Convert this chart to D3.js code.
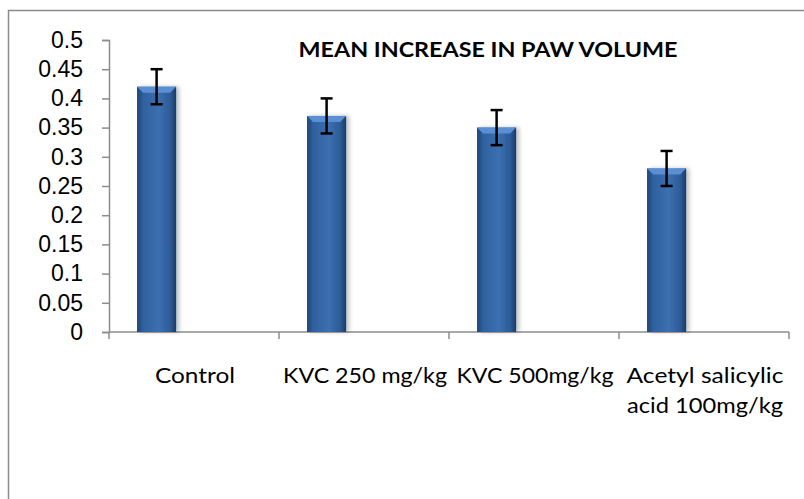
<!DOCTYPE html>
<html>
<head>
<meta charset="utf-8">
<script src="https://cdn.jsdelivr.net/npm/d3@7"></script>
<style>
  body { margin: 0; background: #fff; }
  svg { display: block; font-family: Lato, "Open Sans", sans-serif; }
</style>
</head>
<body>
<div id="chart"></div>
<script>
var svgWidth = 804;
var svgHeight = 499;

// chart data
var categories = ["Control", "KVC 250 mg/kg", "KVC 500mg/kg", "Acetyl salicylic|acid 100mg/kg"];
var means = [0.42, 0.37, 0.35, 0.28];
var errors = [0.03, 0.03, 0.03, 0.03];
var yTicks = [0, 0.05, 0.1, 0.15, 0.2, 0.25, 0.3, 0.35, 0.4, 0.45, 0.5];
var title = "MEAN INCREASE IN PAW VOLUME";

var plot = { left: 109, right: 789, top: 40, bottom: 332 };

var svg = d3.select("#chart")
  .append("svg")
  .attr("width", svgWidth)
  .attr("height", svgHeight);

var defs = svg.append("defs");
var grad = defs.append("linearGradient")
  .attr("id", "barGrad")
  .attr("x1", "0%").attr("x2", "100%").attr("y1", "0%").attr("y2", "0%");
grad.append("stop").attr("offset", "0%").attr("stop-color", "#1e4476");
grad.append("stop").attr("offset", "15%").attr("stop-color", "#2f609e");
grad.append("stop").attr("offset", "55%").attr("stop-color", "#3c6fb1");
grad.append("stop").attr("offset", "85%").attr("stop-color", "#2d5b96");
grad.append("stop").attr("offset", "100%").attr("stop-color", "#1a3a66");

var shadow = defs.append("filter").attr("id", "shadow")
  .attr("x", "-20%").attr("y", "-10%").attr("width", "160%").attr("height", "120%");
shadow.append("feDropShadow")
  .attr("dx", 3).attr("dy", 0).attr("stdDeviation", 2)
  .attr("flood-color", "#000").attr("flood-opacity", 0.25);

// outer frame
svg.append("rect")
  .attr("x", 8.5).attr("y", 10.5)
  .attr("width", 820).attr("height", 520)
  .attr("fill", "none")
  .attr("stroke", "#8c8c8c")
  .attr("stroke-width", 1.5);

var x = d3.scaleBand()
  .domain(categories)
  .range([plot.left, plot.right])
  .paddingInner(0).paddingOuter(0);

var y = d3.scaleLinear()
  .domain([0, 0.5])
  .range([plot.bottom, plot.top]);

// y axis
var yAxis = d3.axisLeft(y)
  .tickValues(yTicks)
  .tickSize(7)
  .tickPadding(19)
  .tickFormat(d => d3.format("")(+d.toFixed(2)));

var gy = svg.append("g")
  .attr("transform", `translate(${plot.left},0)`)
  .call(yAxis);
gy.select(".domain").attr("stroke", "#8c8c8c").attr("stroke-width", 1.5);
gy.selectAll(".tick line").attr("stroke", "#8c8c8c").attr("stroke-width", 1.5);
gy.selectAll(".tick text")
  .attr("fill", "#000")
  .style("font-size", "23px");

// x axis line and ticks
var gx = svg.append("g")
  .attr("transform", `translate(0,${plot.bottom})`);
gx.append("line")
  .attr("x1", plot.left).attr("x2", plot.right)
  .attr("stroke", "#8c8c8c").attr("stroke-width", 1.5);
var edges = categories.map(c => x(c)).concat([plot.right]);
gx.selectAll(".xtick")
  .data(edges)
  .enter()
  .append("line")
  .attr("class", "xtick")
  .attr("x1", d => d).attr("x2", d => d)
  .attr("y1", 0).attr("y2", 7)
  .attr("stroke", "#8c8c8c").attr("stroke-width", 1.5);

// x labels (widths matched to the reference)
var labelWidths = { "Control": 80, "KVC 250 mg/kg": 164, "KVC 500mg/kg": 157,
  "Acetyl salicylic": 157, "acid 100mg/kg": 156 };

var labels = gx.selectAll(".xlabel")
  .data(categories)
  .enter()
  .append("text")
  .attr("class", "xlabel")
  .attr("text-anchor", "middle")
  .style("font-size", "22px")
  .attr("fill", "#000");
labels.each(function(c) {
  var lines = c.split("|");
  var t = d3.select(this);
  lines.forEach(function(line, i) {
    t.append("tspan")
      .attr("x", x(c) + x.bandwidth() / 2 + 1)
      .attr("y", 51 + i * 30)
      .attr("textLength", labelWidths[line])
      .attr("lengthAdjust", "spacingAndGlyphs")
      .text(line);
  });
});

// bars
var barOff = x.bandwidth() * 0.165;
var barW = x.bandwidth() * 0.23;
var bevel = 6;

var bars = svg.append("g").selectAll("g")
  .data(categories)
  .enter()
  .append("g");

bars.append("rect")
  .attr("x", c => x(c) + barOff)
  .attr("y", (c, i) => y(means[i]))
  .attr("width", barW)
  .attr("height", (c, i) => y(0) - y(means[i]))
  .attr("fill", "url(#barGrad)")
  .attr("filter", "url(#shadow)");

bars.append("polygon")
  .attr("points", function(c, i) {
    var x0 = x(c) + barOff, x1 = x0 + barW, t = y(means[i]);
    return [[x0, t], [x1, t], [x1 - bevel, t + bevel], [x0 + bevel, t + bevel]].join(" ");
  })
  .attr("fill", "#5b8fd3");

// error bars
var eb = svg.append("g").selectAll("g")
  .data(categories)
  .enter()
  .append("g")
  .attr("stroke", "#000")
  .attr("stroke-width", 2.5);

eb.append("line")
  .attr("x1", c => x(c) + barOff + barW / 2)
  .attr("x2", c => x(c) + barOff + barW / 2)
  .attr("y1", (c, i) => y(means[i] + errors[i]))
  .attr("y2", (c, i) => y(means[i] - errors[i]));
eb.append("line")
  .attr("x1", c => x(c) + barOff + barW / 2 - 6)
  .attr("x2", c => x(c) + barOff + barW / 2 + 6)
  .attr("y1", (c, i) => y(means[i] + errors[i]))
  .attr("y2", (c, i) => y(means[i] + errors[i]));
eb.append("line")
  .attr("x1", c => x(c) + barOff + barW / 2 - 6)
  .attr("x2", c => x(c) + barOff + barW / 2 + 6)
  .attr("y1", (c, i) => y(means[i] - errors[i]))
  .attr("y2", (c, i) => y(means[i] - errors[i]));

// title
svg.append("text")
  .attr("x", 488)
  .attr("y", 57)
  .attr("text-anchor", "middle")
  .style("font-size", "21px")
  .style("font-weight", "bold")
  .attr("textLength", 379)
  .attr("lengthAdjust", "spacingAndGlyphs")
  .attr("fill", "#000")
  .text(title);
</script>
</body>
</html>
